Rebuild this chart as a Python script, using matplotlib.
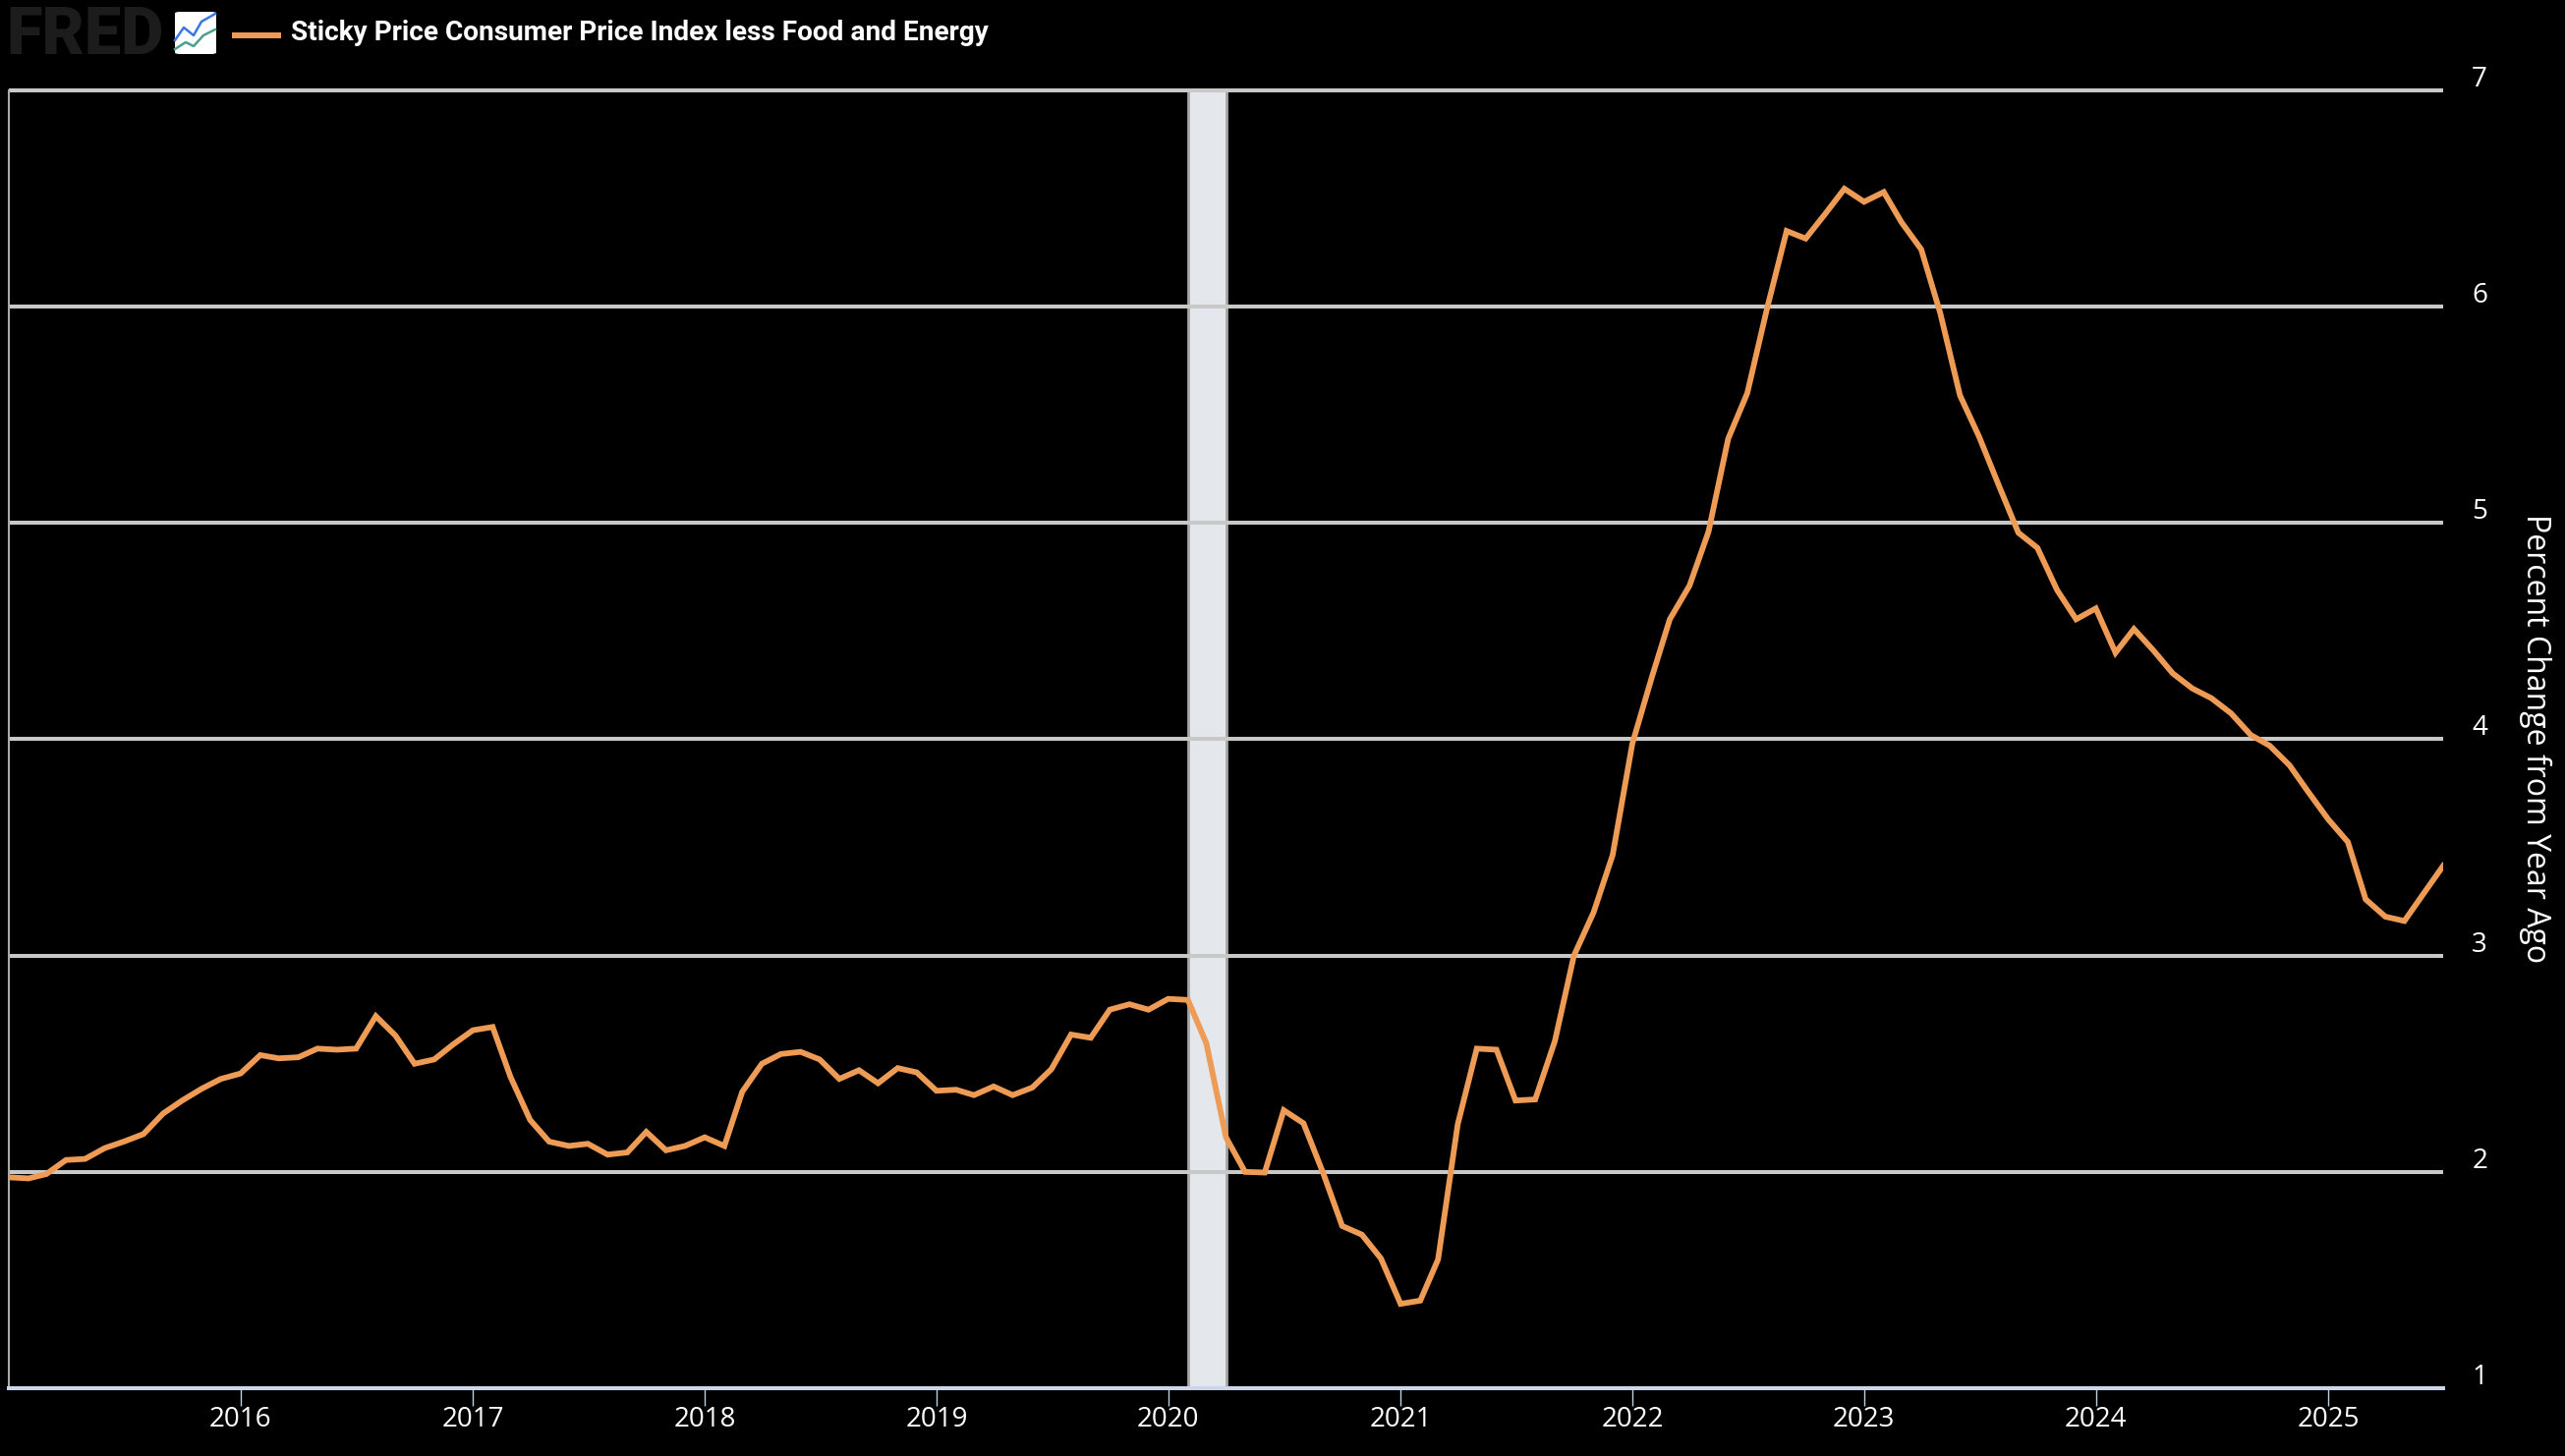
import pandas as pd
from matplotlib import pyplot as plt
from matplotlib.lines import Line2D
from matplotlib.patches import FancyBboxPatch
from matplotlib.transforms import ScaledTranslation

# monthly values
values_2015 = [1.975, 1.97, 1.99, 2.055, 2.06, 2.11, 2.14, 2.175, 2.27, 2.33, 2.385, 2.43]
values_2016 = [2.455, 2.54, 2.525, 2.53, 2.57, 2.565, 2.57, 2.72, 2.63, 2.50, 2.52, 2.59]
values_2017 = [2.655, 2.67, 2.44, 2.24, 2.14, 2.12, 2.13, 2.08, 2.09, 2.185, 2.10, 2.12]
values_2018 = [2.16, 2.12, 2.37, 2.50, 2.545, 2.555, 2.52, 2.43, 2.47, 2.41, 2.48, 2.46]
values_2019 = [2.375, 2.38, 2.355, 2.395, 2.355, 2.39, 2.475, 2.635, 2.62, 2.75, 2.775, 2.75]
values_2020 = [2.80, 2.795, 2.595, 2.16, 2.0, 1.997, 2.285, 2.225, 1.995, 1.75, 1.71, 1.60]
values_2021 = [1.39, 1.405, 1.595, 2.22, 2.57, 2.565, 2.33, 2.335, 2.605, 3.0, 3.2, 3.465]
values_2022 = [3.98, 4.29, 4.555, 4.71, 4.96, 5.39, 5.60, 5.99, 6.35, 6.315, 6.43, 6.545]
values_2023 = [6.485, 6.53, 6.39, 6.265, 5.97, 5.59, 5.40, 5.175, 4.955, 4.885, 4.69, 4.555]
values_2024 = [4.605, 4.40, 4.51, 4.41, 4.305, 4.235, 4.19, 4.12, 4.02, 3.97, 3.88, 3.755]
values_2025 = [3.63, 3.525, 3.26, 3.18, 3.16, 3.29, 3.415]

series = (values_2015 + values_2016 + values_2017 + values_2018 + values_2019 + values_2020
          + values_2021 + values_2022 + values_2023 + values_2024 + values_2025)
dates = pd.date_range('2015-01-01', periods=len(series), freq='MS')

year_ticks = list(range(2016, 2026))
y_ticks = [1, 2, 3, 4, 5, 6, 7]
recession = ('2020-02-01', '2020-04-01')

series_name = 'Sticky Price Consumer Price Index less Food and Energy'
y_label = 'Percent Change from Year Ago'

W, H = 2610, 1482
plt.rcParams['font.family'] = ['Open Sans', 'DejaVu Sans']
fig = plt.figure(figsize=(W / 100, H / 100), dpi=100, facecolor='black')
ax = fig.add_axes([9 / W, 1 - 1413 / H, (2486 - 9) / W, (1413 - 92) / H], facecolor='black')

ax.axvspan(pd.Timestamp(recession[0]), pd.Timestamp(recession[1]), facecolor='#E4E7EC',
           edgecolor='#A6A6A6', linewidth=2, zorder=1)
for v in y_ticks:
    ax.axhline(v, color='#C8C8C8', linewidth=2.9, zorder=2, clip_on=False, solid_capstyle='butt')
ax.plot(dates, series, color='#EE9B55', linewidth=4.2, solid_joinstyle='miter', zorder=3)

ax.set_xlim(pd.Timestamp('2015-01-01'), pd.Timestamp('2025-07-01'))
ax.set_ylim(1, 7)

ax.set_xticks([pd.Timestamp(f'{y}-01-01') for y in year_ticks])
ax.set_xticklabels([str(y) for y in year_ticks])
ax.tick_params(axis='x', length=13, width=1, color='#C0D0E0', labelcolor='white', labelsize=20, pad=0)

ax.yaxis.tick_right()
ax.set_yticks(y_ticks)
ax.tick_params(axis='y', length=0, labelcolor='white', labelsize=20, pad=21)
up = ScaledTranslation(0, 4 / 100, fig.dpi_scale_trans)
for lab in ax.get_yticklabels():
    lab.set_va('baseline')
    lab.set_transform(lab.get_transform() + up)

ax.yaxis.set_label_position('right')
ax.set_ylabel(y_label, color='white', fontsize=23, rotation=270, va='center', ha='center')
ax.yaxis.set_label_coords((2580 - 9) / 2477, (1413 - 752) / 1321)

for s in ['top', 'right']:
    ax.spines[s].set_visible(False)
ax.spines['left'].set_color('#AAAAAA')
ax.spines['left'].set_linewidth(1.5)
ax.spines['bottom'].set_color('#CCD6EB')
ax.spines['bottom'].set_linewidth(2.9)

# header: logo and legend, placed in figure pixels
def px(x, y):
    return x / W, 1 - y / H

fig.text(*px(6, 55), 'FRED', color='#1C1C1C', fontsize=48, fontweight='black', family='Roboto', va='baseline')
fig.add_artist(FancyBboxPatch(px(178, 55), 42 / W, 43 / H, boxstyle='round,pad=0,rounding_size=0.002',
                              mutation_aspect=H / W, transform=fig.transFigure, facecolor='white', edgecolor='none'))
blue_x, blue_y = [178, 187, 197, 205, 219], [41, 28, 36, 22, 14]
green_x, green_y = [178, 189, 197, 207, 219], [50, 43, 47, 36, 30]
fig.add_artist(Line2D(*zip(*[px(a, b) for a, b in zip(blue_x, blue_y)]), color='#3B78E7', linewidth=1.8,
                      transform=fig.transFigure))
fig.add_artist(Line2D(*zip(*[px(a, b) for a, b in zip(green_x, green_y)]), color='#4C9F8F', linewidth=1.8,
                      transform=fig.transFigure))

fig.add_artist(Line2D(*zip(px(236, 36), px(286, 36)), color='#EE9B55', linewidth=4.3, transform=fig.transFigure,
                      solid_capstyle='butt'))
fig.text(*px(296, 33.5), series_name, color='white', fontsize=20.2, fontweight='bold', family='Roboto', va='center')

fig.savefig('out.png', dpi=100, facecolor='black')
